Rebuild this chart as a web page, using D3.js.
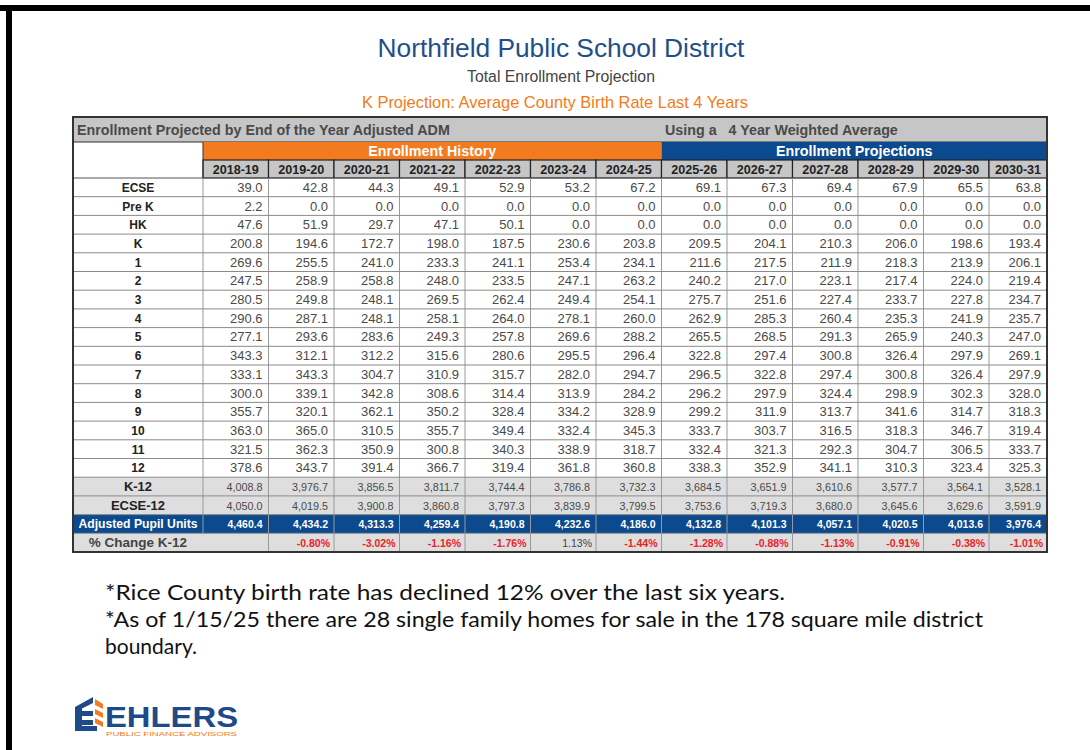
<!DOCTYPE html>
<html><head><meta charset="utf-8">
<script src="https://cdn.jsdelivr.net/npm/d3@7/dist/d3.min.js"></script>
<style>
html,body{margin:0;padding:0;background:#fff;}
svg{display:block;font-family:"Liberation Sans",Arial,sans-serif;}
</style></head>
<body>
<svg id="c" width="1090" height="750"></svg>
<script>
// ---------- DATA ----------
const years = ["2018-19","2019-20","2020-21","2021-22","2022-23","2023-24","2024-25","2025-26","2026-27","2027-28","2028-29","2029-30","2030-31"];
const historyYears = years.slice(0,7);
const projectionYears = years.slice(7);
const grades = ["ECSE","Pre K","HK","K","1","2","3","4","5","6","7","8","9","10","11","12"];
const ECSE = [39.0,42.8,44.3,49.1,52.9,53.2,67.2,69.1,67.3,69.4,67.9,65.5,63.8];
const PreK = [2.2,0.0,0.0,0.0,0.0,0.0,0.0,0.0,0.0,0.0,0.0,0.0,0.0];
const HK = [47.6,51.9,29.7,47.1,50.1,0.0,0.0,0.0,0.0,0.0,0.0,0.0,0.0];
const gK = [200.8,194.6,172.7,198.0,187.5,230.6,203.8,209.5,204.1,210.3,206.0,198.6,193.4];
const g1 = [269.6,255.5,241.0,233.3,241.1,253.4,234.1,211.6,217.5,211.9,218.3,213.9,206.1];
const g2 = [247.5,258.9,258.8,248.0,233.5,247.1,263.2,240.2,217.0,223.1,217.4,224.0,219.4];
const g3 = [280.5,249.8,248.1,269.5,262.4,249.4,254.1,275.7,251.6,227.4,233.7,227.8,234.7];
const g4 = [290.6,287.1,248.1,258.1,264.0,278.1,260.0,262.9,285.3,260.4,235.3,241.9,235.7];
const g5 = [277.1,293.6,283.6,249.3,257.8,269.6,288.2,265.5,268.5,291.3,265.9,240.3,247.0];
const g6 = [343.3,312.1,312.2,315.6,280.6,295.5,296.4,322.8,297.4,300.8,326.4,297.9,269.1];
const g7 = [333.1,343.3,304.7,310.9,315.7,282.0,294.7,296.5,322.8,297.4,300.8,326.4,297.9];
const g8 = [300.0,339.1,342.8,308.6,314.4,313.9,284.2,296.2,297.9,324.4,298.9,302.3,328.0];
const g9 = [355.7,320.1,362.1,350.2,328.4,334.2,328.9,299.2,311.9,313.7,341.6,314.7,318.3];
const g10 = [363.0,365.0,310.5,355.7,349.4,332.4,345.3,333.7,303.7,316.5,318.3,346.7,319.4];
const g11 = [321.5,362.3,350.9,300.8,340.3,338.9,318.7,332.4,321.3,292.3,304.7,306.5,333.7];
const g12 = [378.6,343.7,391.4,366.7,319.4,361.8,360.8,338.3,352.9,341.1,310.3,323.4,325.3];
const gradeValues = [ECSE,PreK,HK,gK,g1,g2,g3,g4,g5,g6,g7,g8,g9,g10,g11,g12];
const totalK12 = [4008.8,3976.7,3856.5,3811.7,3744.4,3786.8,3732.3,3684.5,3651.9,3610.6,3577.7,3564.1,3528.1];
const totalECSE12 = [4050.0,4019.5,3900.8,3860.8,3797.3,3839.9,3799.5,3753.6,3719.3,3680.0,3645.6,3629.6,3591.9];
const adjustedPupilUnits = [4460.4,4434.2,4313.3,4259.4,4190.8,4232.6,4186.0,4132.8,4101.3,4057.1,4020.5,4013.6,3976.4];
const pctChangeK12 = [null,-0.80,-3.02,-1.16,-1.76,1.13,-1.44,-1.28,-0.88,-1.13,-0.91,-0.38,-1.01];

const title = "Northfield Public School District";
const subtitle = "Total Enrollment Projection";
const subtitle2 = "K Projection: Average County Birth Rate Last 4 Years";
const notes = ["*Rice County birth rate has declined 12% over the last six years.",
               "*As of 1/15/25 there are 28 single family homes for sale in the 178 square mile district",
               "boundary."];

// ---------- LAYOUT ----------
const svg = d3.select("#c");
const W = 1090, H = 750;
const tL = 73, tR = 1047, labelR = 203;
const colW = 65.5;
const x = d3.scaleBand().domain(years).range([labelR, labelR + colW*13]);
const rowKeys = grades.concat(["K-12","ECSE-12","APU","PCT"]);
const y = d3.scaleBand().domain(rowKeys).range([178, 552]);
const cellR = yr => Math.min(x(yr) + x.bandwidth(), tR);

const C = {orange:"#f47a20", blue:"#0b4a8e", title:"#1e4f8a", gray:"#c6c6c6", light:"#dedede", text:"#4a4a4a", red:"#ee1c25"};
const loc = d3.formatLocale({decimal:".", thousands:",", grouping:[3], currency:["$",""], minus:"-"});

// frame
svg.append("rect").attr("x",0).attr("y",0).attr("width",W).attr("height",H).attr("fill","#fff");
svg.append("rect").attr("x",0).attr("y",5).attr("width",W).attr("height",6).attr("fill","#000");
svg.append("rect").attr("x",6).attr("y",5).attr("width",6).attr("height",H).attr("fill","#000");

// titles
svg.append("text").attr("x",561).attr("y",57).attr("text-anchor","middle").attr("font-size",26.3).attr("fill",C.title).text(title);
svg.append("text").attr("x",561).attr("y",82).attr("text-anchor","middle").attr("font-size",15.8).attr("fill","#444").text(subtitle);
svg.append("text").attr("x",555).attr("y",108).attr("text-anchor","middle").attr("font-size",16.4).attr("fill",C.orange).text(subtitle2);

const g = svg.append("g");

// top gray row
g.append("rect").attr("x",tL).attr("y",117).attr("width",tR-tL).attr("height",25).attr("fill",C.gray);
g.append("text").attr("x",77).attr("y",135).attr("font-size",14.3).attr("font-weight","bold").attr("fill","#4a4a4a").text("Enrollment Projected by End of the Year Adjusted ADM");
g.append("text").attr("x",665).attr("y",135).attr("font-size",14.3).attr("font-weight","bold").attr("fill","#4a4a4a").attr("xml:space","preserve").text("Using a   4 Year Weighted Average");
g.append("line").attr("x1",tL).attr("x2",tR).attr("y1",142).attr("y2",142).attr("stroke","#333").attr("stroke-width",1);

// band row
const hx0 = x(historyYears[0]), hx1 = x(historyYears[historyYears.length-1]) + x.bandwidth();
const px0 = x(projectionYears[0]);
g.append("rect").attr("x",hx0).attr("y",142).attr("width",hx1-hx0).attr("height",18).attr("fill",C.orange);
g.append("rect").attr("x",px0).attr("y",142).attr("width",tR-px0).attr("height",18).attr("fill",C.blue);
g.append("text").attr("x",(hx0+hx1)/2).attr("y",156).attr("text-anchor","middle").attr("font-size",14.3).attr("font-weight","bold").attr("fill","#fff").text("Enrollment History");
g.append("text").attr("x",(px0+tR)/2).attr("y",156).attr("text-anchor","middle").attr("font-size",14.3).attr("font-weight","bold").attr("fill","#fff").text("Enrollment Projections");

// year header row
years.forEach(yr => {
  g.append("rect").attr("x",x(yr)).attr("y",160).attr("width",cellR(yr)-x(yr)).attr("height",18)
   .attr("fill",C.gray).attr("stroke","#222").attr("stroke-width",1.2);
  g.append("text").attr("x",(x(yr)+cellR(yr))/2).attr("y",173.8).attr("text-anchor","middle")
   .attr("font-size",12.6).attr("font-weight","bold").attr("fill","#222").text(yr);
});
g.append("line").attr("x1",labelR).attr("x2",labelR).attr("y1",142).attr("y2",178).attr("stroke","#333");
g.append("line").attr("x1",tL).attr("x2",labelR).attr("y1",178).attr("y2",178).attr("stroke","#555");

// data rows
const fmt1 = loc.format(".1f"), fmtC = loc.format(",.1f"), fmtP = loc.format(".2f");
const rowBg = {"K-12":C.light,"ECSE-12":C.light,"APU":C.blue,"PCT":C.light};
rowKeys.forEach(k => {
  if (rowBg[k]) g.append("rect").attr("x",tL).attr("y",y(k)).attr("width",tR-tL).attr("height",y.bandwidth()).attr("fill",rowBg[k]);
});
// vertical grid lines (the % change label spans the first year column)
years.forEach((yr,i) => {
  g.append("line").attr("x1",x(yr)).attr("x2",x(yr)).attr("y1",178).attr("y2", i===0 ? y("PCT") : 552)
   .attr("stroke", "#9a9a9a").attr("stroke-width",1);
});
// horizontal lines
rowKeys.forEach((k,i) => {
  if (i===0) return;
  g.append("line").attr("x1",tL).attr("x2",tR).attr("y1",y(k)).attr("y2",y(k)).attr("stroke","#8a8a8a").attr("stroke-width",1);
});

function rowText(k, label, vals, opts) {
  const cy = y(k) + y.bandwidth()/2 + 4.5;
  g.append("text").attr("x",(tL+labelR)/2).attr("y",cy).attr("text-anchor","middle")
   .attr("font-size",opts.lsize||12).attr("font-weight","bold").attr("fill",opts.lcolor||"#222").text(label);
  vals.forEach((v,i) => {
    if (v===null) return;
    g.append("text").attr("x",cellR(years[i]) - 6).attr("y",cy).attr("text-anchor","end")
     .attr("font-size",opts.size).attr("font-weight",opts.bold?"bold":"normal")
     .attr("fill",opts.color ? opts.color(v) : C.text).text(opts.fmt(v));
  });
}
grades.forEach((gr,i) => rowText(gr, gr, gradeValues[i], {size:13, fmt:fmt1}));
rowText("K-12","K-12",totalK12,{size:10.8, fmt:fmtC, lsize:13});
rowText("ECSE-12","ECSE-12",totalECSE12,{size:10.8, fmt:fmtC, lsize:13});
rowText("APU","Adjusted Pupil Units",adjustedPupilUnits,{size:10.5,bold:true,fmt:fmtC,color:()=>"#fff",lcolor:"#fff",lsize:12.2});
{
  const cy = y("PCT") + y.bandwidth()/2 + 4.5;
  g.append("text").attr("x",(tL+labelR)/2).attr("y",cy).attr("text-anchor","middle")
   .attr("font-size",13.5).attr("font-weight","bold").attr("fill","#444").text("% Change K-12");
  pctChangeK12.forEach((v,i) => {
    if (v===null) return;
    g.append("text").attr("x",cellR(years[i]) - 4).attr("y",cy).attr("text-anchor","end")
     .attr("font-size",10.5).attr("font-weight",v<0?"bold":"normal")
     .attr("fill", v<0 ? C.red : "#444").text(fmtP(v)+"%");
  });
}
// outer border
g.append("rect").attr("x",tL).attr("y",117).attr("width",tR-tL).attr("height",552-117).attr("fill","none").attr("stroke","#333").attr("stroke-width",2);

// notes
const noteW = [680, 878, null];
notes.forEach((n,i) => {
  const t = svg.append("text").attr("x",105).attr("y",600 + i*27).attr("font-size",21)
   .attr("font-family","Lato,'Open Sans',sans-serif").attr("fill","#111").text(n);
  if (noteW[i]) t.attr("textLength",noteW[i]).attr("lengthAdjust","spacingAndGlyphs");
});

// logo
const lg = svg.append("g").attr("transform","translate(75,697)");
lg.append("path").attr("d","M0,10 L18,0 L18,6 L7,11.5 L7,14 L18,14 L18,19 L7,19 L7,23 L18,23 L18,28 L7,28 L7,29 L22,29 L22,34 L0,34 Z").attr("fill","#1f4a8a");
lg.append("path").attr("d","M20,2 L28,7 L28,12 L20,8 Z M20,12 L28,16 L28,21 L20,17 Z M20,21 L28,25 L28,30 L20,26 Z").attr("fill",C.orange);
lg.append("text").attr("x",30).attr("y",30).attr("font-size",30).attr("font-weight","bold").attr("fill","#1f4a8a")
  .attr("textLength",133).attr("lengthAdjust","spacingAndGlyphs").text("EHLERS");
lg.append("text").attr("x",31).attr("y",39).attr("font-size",5.5).attr("fill",C.orange)
  .attr("textLength",131).attr("lengthAdjust","spacingAndGlyphs").text("PUBLIC FINANCE ADVISORS");
</script>
</body></html>
